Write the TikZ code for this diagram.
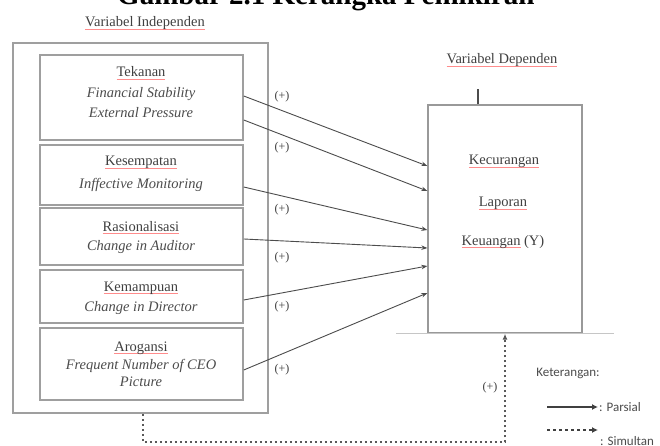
\documentclass[tikz,border=0pt]{standalone}
\usepackage{fontspec}
\setmainfont{Liberation Serif}
\newfontfamily\legendfont{Carlito}
\usetikzlibrary{arrows.meta,calc}
\newcommand\spellmark[1]{\setbox0\hbox{#1}\leavevmode\rlap{\color{red!45}\rule[-2.8pt]{\wd0}{0.7pt}}\box0\relax}
\begin{document}
\begin{tikzpicture}[x=1pt,y=-1pt,
  box/.style={draw=gray!75, line width=1.5pt, rectangle, inner sep=0pt},
  txt/.style={anchor=base, inner sep=0pt, text=black!75, font=\fontsize{14.5}{17}\selectfont},
  itx/.style={anchor=base, inner sep=0pt, text=black!70, font=\fontsize{14.5}{17}\selectfont\itshape},
  plus/.style={inner sep=0pt, text=black!75, font=\fontsize{12}{14}\selectfont},
  arr/.style={draw=black!70, line width=0.9pt, -{Stealth[length=6pt,width=4.5pt]}},
  dotline/.style={draw=black!65, line width=1.2pt, dash pattern=on 2pt off 3pt, -{Latex[length=6pt,width=5pt]}},
  legarr/.style={draw=black!75, line width=1.2pt, -{Latex[length=6pt,width=6pt]}},
  legtxt/.style={inner sep=0pt, text=black!70, font=\legendfont\fontsize{13}{15}\selectfont}]
\useasboundingbox (0,0) rectangle (660,446);
\fill[white] (0,0) rectangle (660,446);

% title (cut off at top)
\node[anchor=base west, inner sep=0pt, font=\fontsize{29}{31}\selectfont\bfseries] (title) at (117,5) {Gambar 2.1 Kerangka Pemikiran};

% headings
\node[txt] (hind) at (145,27) {\spellmark{Variabel Independen}};
\node[txt] (hdep) at (502,64) {\spellmark{Variabel Dependen}};

% outer box and independent variables
\node[box, minimum width=255pt, minimum height=370pt] (outer) at (140.5,228) {};
\node[box, minimum width=203pt, minimum height=85pt] (tek) at (141.5,97.5) {};
\node[box, minimum width=203pt, minimum height=60pt] (kes) at (141.5,175) {};
\node[box, minimum width=203pt, minimum height=57pt] (ras) at (141.5,236.5) {};
\node[box, minimum width=203pt, minimum height=53pt] (kem) at (141.5,296.5) {};
\node[box, minimum width=203pt, minimum height=72pt] (aro) at (141.5,364) {};

\node[txt] (tek1) at (141,77) {\spellmark{Tekanan}};
\node[itx] (tek2) at (141,98) {Financial Stability};
\node[itx] (tek3) at (141,118) {External Pressure};
\node[txt] (kes1) at (141,166) {\spellmark{Kesempatan}};
\node[itx] (kes2) at (141,189) {Inffective Monitoring};
\node[txt] (ras1) at (141,231) {\spellmark{Rasionalisasi}};
\node[itx] (ras2) at (141,250) {Change in Auditor};
\node[txt] (kem1) at (141,291) {\spellmark{Kemampuan}};
\node[itx] (kem2) at (141,311) {Change in Director};
\node[txt] (aro1) at (141,351) {\spellmark{Arogansi}};
\node[itx] (aro2) at (141,369) {Frequent Number of CEO};
\node[itx] (aro3) at (141,386) {Picture};

% dependent box
\node[box, draw=gray!80, line width=1.3pt, minimum width=154pt, minimum height=228pt] (dep) at (505,219) {};
\draw[gray!45, line width=1.2pt] ($(dep.south west)+(-31,0)$) -- ($(dep.south east)+(31,0)$);
\coordinate (tk) at ($(dep.north)+(-27,0)$);
\draw[black!70, line width=1.6pt] (tk) -- ++(0,-15);
\node[txt] (dep1) at (504,165) {\spellmark{Kecurangan}};
\node[txt] (dep2) at (503,207) {\spellmark{Laporan}};
\node[txt] (dep3) at (503,245) {\spellmark{Keuangan} (Y)};

% partial arrows
\draw[arr] (tek.east |- 0,96) -- (dep.west |- 0,166);
\draw[arr] (tek.east |- 0,120) -- (dep.west |- 0,191);
\draw[arr] (kes.east |- 0,187) -- (dep.west |- 0,230);
\draw[arr] (ras.east |- 0,239) -- (dep.west |- 0,248);
\draw[arr] (kem.east |- 0,300) -- (dep.west |- 0,266);
\draw[arr] (aro.east |- 0,370) -- (dep.west |- 0,293);

\node[plus] (p1) at (282,97) {(+)};
\node[plus] (p2) at (282,148) {(+)};
\node[plus] (p3) at (282,210) {(+)};
\node[plus] (p4) at (282,258) {(+)};
\node[plus] (p5) at (282,307) {(+)};
\node[plus] (p6) at (282,370) {(+)};

% simultaneous arrow
\coordinate (d1) at (143,442);
\coordinate (d2) at (505,442);
\draw[dotline] (outer.south -| d1) -- (d1) -- (d2) -- (dep.south);
\node[plus] (p7) at (490,388) {(+)};

% legend
\node[legtxt, anchor=base] (ket) at (568,376) {Keterangan:};
\coordinate (ls1) at (547,407);
\coordinate (le1) at (598,407);
\draw[legarr] (ls1) -- (le1);
\node[legtxt, anchor=west] (lpar) at (599,407) {: Parsial};
\coordinate (ls2) at (547,430);
\coordinate (le2) at (598,430);
\draw[legarr, dash pattern=on 3pt off 3pt] (ls2) -- (le2);
\node[legtxt, anchor=base west] (lsim) at (600,445) {: Simultan};
\end{tikzpicture}
\end{document}
